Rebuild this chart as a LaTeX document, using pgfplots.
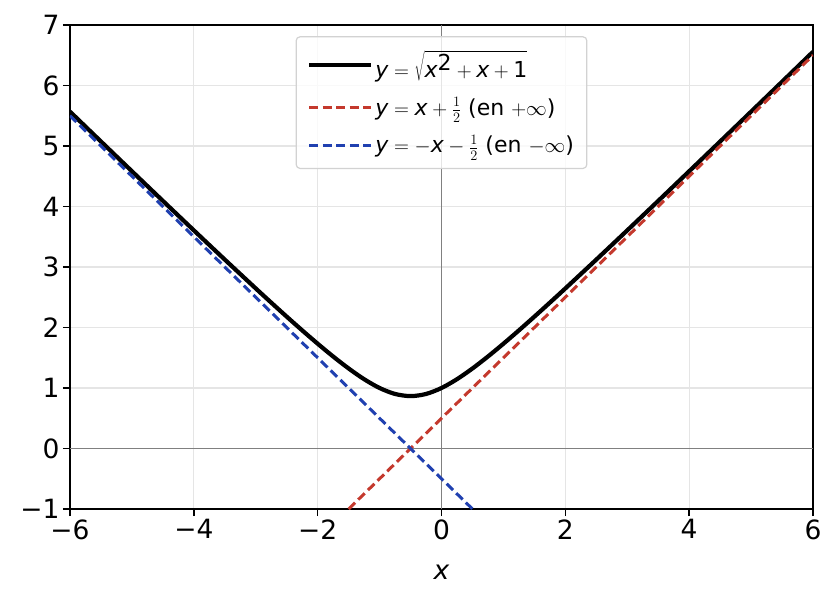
\documentclass[border=0pt]{standalone}
\usepackage{fontspec}
\setmainfont{DejaVu Sans}
\usepackage{pgfplots}
\pgfplotsset{compat=1.18}
\definecolor{myred}{RGB}{196,57,45}
\definecolor{myblue}{RGB}{32,64,176}
\newcommand{\iv}[1]{\mbox{\itshape #1}}
\newcommand{\rv}[1]{\mbox{#1}}
\begin{document}
\begin{tikzpicture}
\begin{axis}[
  scale only axis,
  width=743bp, height=484bp,
  xmin=-6, xmax=6, ymin=-1, ymax=7,
  xtick={-6,-4,-2,0,2,4,6},
  xticklabels={−6,−4,−2,0,2,4,6},
  ytick={-1,0,1,2,3,4,5,6,7},
  yticklabels={−1,0,1,2,3,4,5,6,7},
  tick label style={font=\fontsize{26.5bp}{30bp}\selectfont},
  xlabel={\itshape x},
  xlabel style={font=\fontsize{26.5bp}{30bp}\selectfont, yshift=-19bp},
  tick align=outside, tick pos=left,
  major tick length=7bp,
  every tick/.style={black, line width=1.6bp},
  axis line style={line width=1.6bp},
  grid=major,
  major grid style={gray!20, line width=1.2bp},
  legend cell align=left,
  legend style={at={(0.5,0.977)}, anchor=north, font=\fontsize{22bp}{26bp}\selectfont,
    draw=gray!35, line width=1.2bp, rounded corners=4bp, inner xsep=11bp, inner ysep=12bp,
    row sep=15bp, fill=white, fill opacity=0.8, draw opacity=1, text opacity=1},
  legend image code/.code={\draw[#1, opacity=1] (0bp,0bp) -- (50bp,0bp); \path (0bp,0bp) -- (62bp,0bp);},
  clip=true,
]
\addplot[gray, line width=1.6bp, forget plot] coordinates {(-6,0) (6,0)};
\addplot[gray, line width=1.6bp, forget plot] coordinates {(0,-1) (0,7)};
\addplot[black, line width=4.2bp, smooth] coordinates {
(-6,5.5678) (-5.5,5.0744) (-5,4.5826) (-4.5,4.0927) (-4,3.6056) (-3.5,3.1225)
(-3,2.6458) (-2.75,2.4109) (-2.5,2.1794) (-2.25,1.9526) (-2,1.7321) (-1.75,1.5207)
(-1.5,1.3229) (-1.25,1.1456) (-1,1.0) (-0.75,0.9014) (-0.5,0.8660) (-0.25,0.9014)
(0,1.0) (0.25,1.1456) (0.5,1.3229) (0.75,1.5207) (1,1.7321) (1.25,1.9526)
(1.5,2.1794) (1.75,2.4109) (2,2.6458) (2.5,3.1225) (3,3.6056) (3.5,4.0927)
(4,4.5826) (4.5,5.0744) (5,5.5678) (5.5,6.0622) (6,6.5574)};
\addlegendentry{$\iv{y}=\sqrt{\iv{x}^{\rv{2}}+\iv{x}+\rv{1}}$}
\addplot[myred, line width=3bp, dash pattern=on 9bp off 4.5bp] coordinates {(-1.5,-1) (6,6.5)};
\addlegendentry{$\iv{y}=\iv{x}+\frac{1}{2}$ (en $+\infty$)}
\addplot[myblue, line width=3bp, dash pattern=on 9bp off 4.5bp] coordinates {(-6,5.5) (0.5,-1)};
\addlegendentry{$\iv{y}=-\iv{x}-\frac{1}{2}$ (en $-\infty$)}
\end{axis}
\pgfresetboundingbox
\path[use as bounding box] (-70bp,-93bp) rectangle (767bp,509bp);
\end{tikzpicture}
\end{document}
